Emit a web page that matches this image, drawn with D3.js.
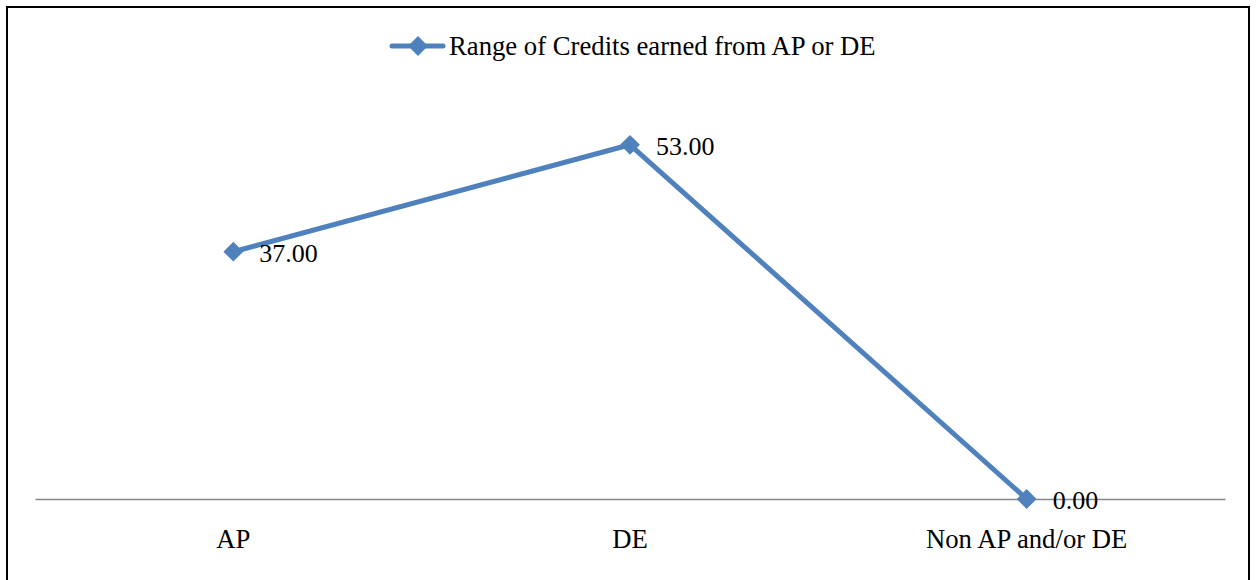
<html>
<head>
<meta charset="utf-8">
<script src="https://cdn.jsdelivr.net/npm/d3@7"></script>
</head>
<body style="margin:0">
<svg id="chart" width="1256" height="580"></svg>
<script>
// Range of credits earned, by credit source
const categories = ["AP", "DE", "Non AP and/or DE"];
const seriesName = "Range of Credits earned from AP or DE";
const values = [37.00, 53.00, 0.00];
const yDomain = [0, 60];

const W = 1256, H = 580;
const margin = { left: 35, right: 31, top: 98, bottom: 81 };
const lineColor = "#4f81bd";
const fam = "Liberation Serif";

const svg = d3.select("#chart");

// outer frame
svg.append("rect")
  .attr("x", 7).attr("y", 7)
  .attr("width", W - 14).attr("height", H + 10)
  .attr("fill", "none").attr("stroke", "#000").attr("stroke-width", 2);

const x = d3.scaleBand()
  .domain(categories)
  .range([margin.left, W - margin.right]);

const y = d3.scaleLinear()
  .domain(yDomain)
  .range([H - margin.bottom, margin.top]);

// category axis along zero
const xAxis = d3.axisBottom(x).tickSize(0).tickPadding(0);
const gx = svg.append("g")
  .attr("transform", `translate(0,${y(0)})`)
  .call(xAxis)
  .attr("font-family", fam)
  .attr("font-size", 26.7);
gx.select(".domain").attr("stroke", "#868686").attr("stroke-width", 1.5);
gx.selectAll(".tick text")
  .attr("dy", 0)
  .attr("y", 49)
  .attr("fill", "#000")
  .style("font-family", `"${fam}"`)
  .style("font-size", "26.7px");

const cx = d => x(d) + x.bandwidth() / 2;

const line = d3.line()
  .x((d, i) => cx(categories[i]))
  .y(d => y(d));

svg.append("path")
  .datum(values)
  .attr("d", line)
  .attr("fill", "none")
  .attr("stroke", lineColor)
  .attr("stroke-width", 5)
  .attr("stroke-linejoin", "round")
  .attr("stroke-linecap", "round");

const diamond = d3.symbol().type(d3.symbolDiamond2).size(250);

svg.append("g").selectAll("path")
  .data(values)
  .join("path")
  .attr("d", diamond)
  .attr("transform", (d, i) => `translate(${cx(categories[i])},${y(d)})`)
  .attr("fill", lineColor);

// value labels
svg.selectAll("text.value")
  .data(values)
  .join("text")
  .attr("class", "value")
  .attr("x", (d, i) => cx(categories[i]) + 26)
  .attr("y", d => y(d) + 10)
  .attr("fill", "#000")
  .attr("font-family", fam)
  .style("font-family", `"${fam}"`)
  .style("font-size", "26px")
  .text(d => d.toFixed(2));

// legend
svg.append("line")
  .attr("x1", 392).attr("x2", 443)
  .attr("y1", 46).attr("y2", 46)
  .attr("stroke", lineColor).attr("stroke-width", 5)
  .attr("stroke-linecap", "round");
svg.append("path")
  .attr("d", diamond)
  .attr("transform", "translate(418,46)")
  .attr("fill", lineColor);
svg.append("text")
  .attr("x", 449).attr("y", 55)
  .attr("fill", "#000")
  .attr("font-family", fam)
  .style("font-family", `"${fam}"`)
  .style("font-size", "26.7px")
  .text(seriesName);
</script>
</body>
</html>
